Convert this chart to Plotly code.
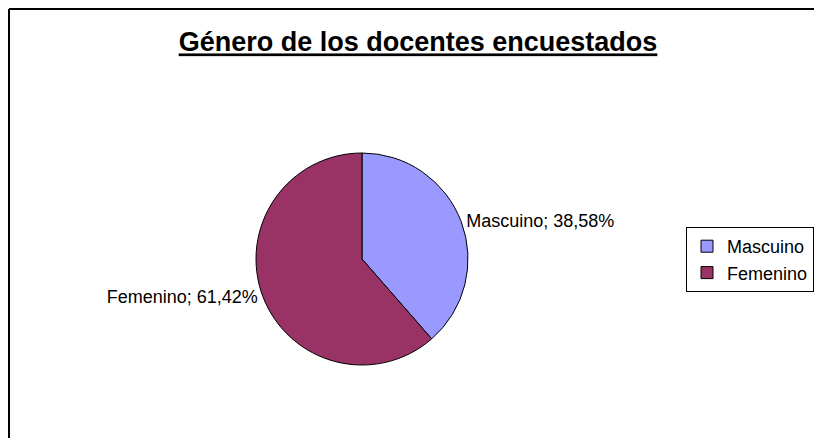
import plotly.graph_objects as go

labels = ["Mascuino", "Femenino"]
values = [38.58, 61.42]
colors = ["#9999FF", "#993366"]
title = "Género de los docentes encuestados"

# figure is drawn inside the page's 8px body margin
W, H = 806, 430
OFF = 8
cx, cy, r = 362 - OFF, 259 - OFF, 106

fig = go.Figure(go.Pie(
    labels=labels,
    values=values,
    sort=False,
    direction="clockwise",
    rotation=0,
    marker=dict(colors=colors, line=dict(color="black", width=1)),
    textposition="outside",
    texttemplate="%{label}; %{percent:.2%}",
    textfont=dict(family="Liberation Sans, Arial", size=18, color="black"),
    domain=dict(x=[(cx - r) / W, (cx + r) / W], y=[(H - cy - r) / H, (H - cy + r) / H]),
    hoverinfo="label+percent",
))

fig.update_layout(
    width=W, height=H,
    margin=dict(l=0, r=0, t=0, b=0),
    paper_bgcolor="white",
    separators=",.",
    title=dict(text="<b><u>" + title + "</u></b>", x=(418 - OFF) / W, xanchor="center",
               y=1 - (42 - OFF) / H, yanchor="middle",
               font=dict(family="Liberation Sans, Arial", size=27, color="black")),
    legend=dict(x=1.0, y=1 - (227 - OFF) / H, xanchor="right", yanchor="top",
                bordercolor="black", borderwidth=1, bgcolor="white",
                font=dict(family="Liberation Sans, Arial", size=18, color="black"),
                itemwidth=30, tracegroupgap=0),
    shapes=[
        dict(type="line", xref="paper", yref="paper",
             x0=1 / W, x1=1.0, y0=1 - 1 / H, y1=1 - 1 / H,
             line=dict(color="black", width=2), layer="below"),
        dict(type="line", xref="paper", yref="paper",
             x0=1 / W, x1=1 / W, y0=0, y1=1 - 1 / H,
             line=dict(color="black", width=2), layer="below"),
    ],
)

fig.write_html("out.html")
